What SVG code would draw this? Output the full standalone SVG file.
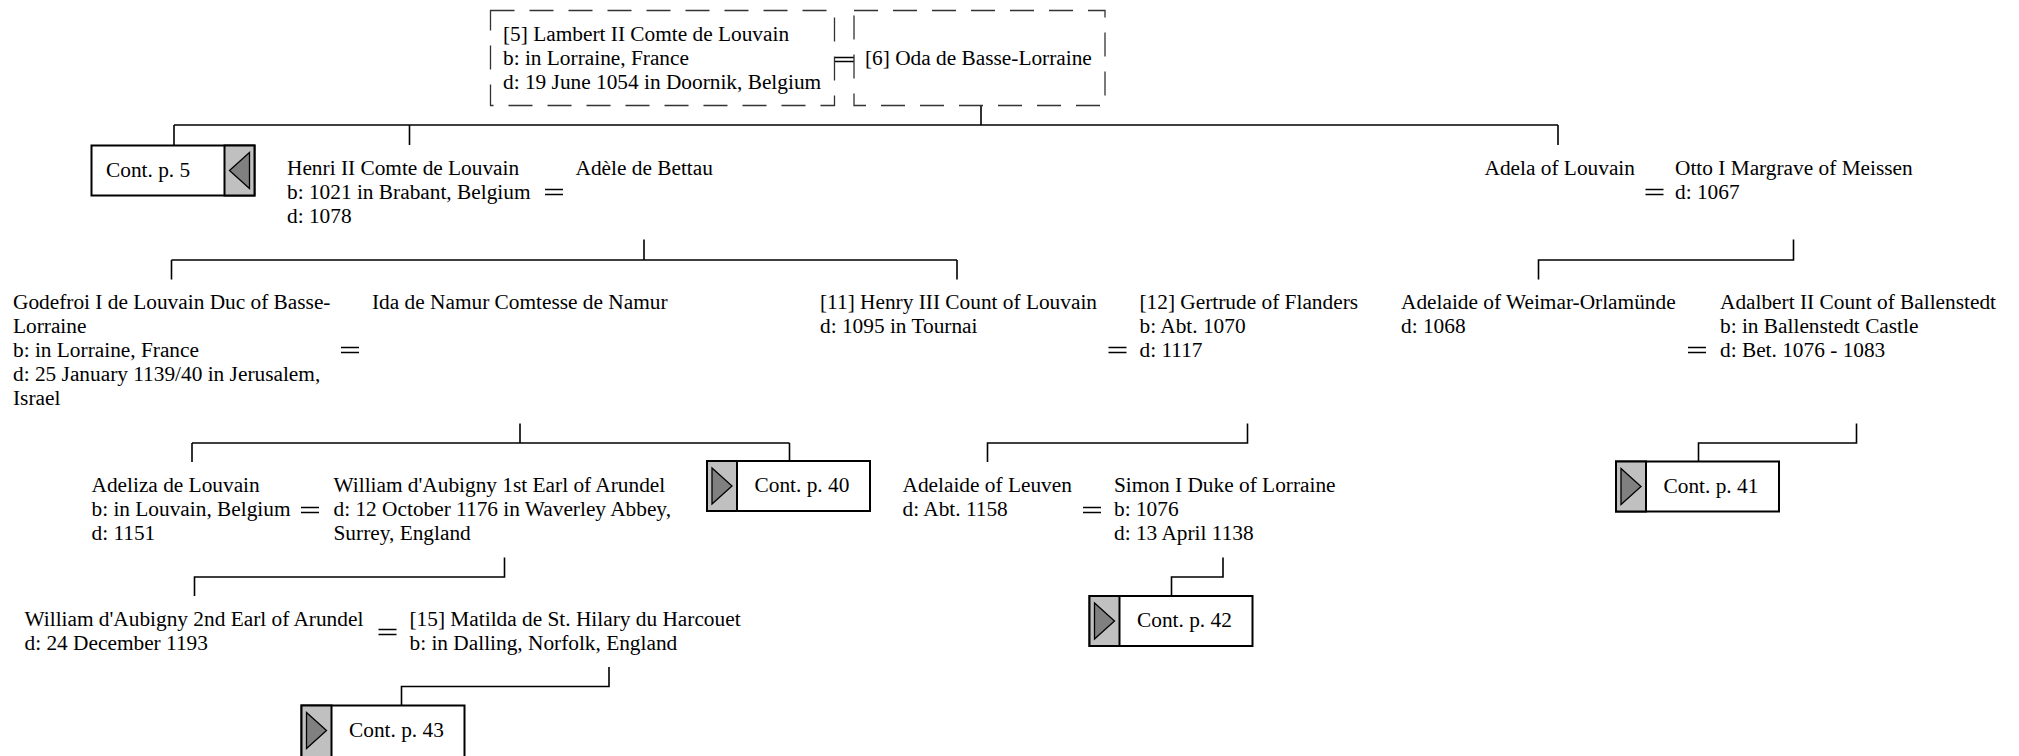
<svg xmlns="http://www.w3.org/2000/svg" width="2019" height="756" viewBox="0 0 2019 756">
<style>
text{font-family:"Liberation Serif","Times New Roman",serif;font-size:21.33px;fill:#000}
.dash{fill:#fff;stroke:#333;stroke-width:1.3;stroke-dasharray:24 15}
.ln{fill:none;stroke:#000;stroke-width:1.6}
.eq{fill:none;stroke:#000;stroke-width:1.4}
.box{fill:#fff;stroke:#000;stroke-width:2}
.gray{fill:#c0c0c0;stroke:#000;stroke-width:2}
.tri{fill:#808080;stroke:#000;stroke-width:1.3}
</style>
<rect width="2019" height="756" fill="#fff"/>
<g id="connectors">
<path class="eq" d="M835,57.5H854M835,61.5H854"/>
<path class="ln" d="M981,105.5V125M174,125H1558M174,125V145.5M409.5,125V145M1558,125V145"/>
<path class="eq" d="M545,189.5H563M545,194.5H563"/>
<path class="ln" d="M644,239.5V260M171.5,260H957M171.5,260V279.5M957,260V279.5"/>
<path class="eq" d="M1645.5,189.5H1663.5M1645.5,194.5H1663.5"/>
<path class="ln" d="M1793.5,239.5V260H1538.5V279.5"/>
<path class="eq" d="M341,347.5H359M341,352.5H359"/>
<path class="eq" d="M1108.5,347.5H1126.5M1108.5,352.5H1126.5"/>
<path class="eq" d="M1688,347.5H1706M1688,352.5H1706"/>
<path class="ln" d="M520,423.5V443M192,443H789.5M192,443V462M789.5,443V461"/>
<path class="ln" d="M1247.5,423.5V443H987.5V462"/>
<path class="ln" d="M1856.5,423.5V443H1698.5V461.5"/>
<path class="eq" d="M301,507.5H319M301,512.5H319"/>
<path class="eq" d="M1083,507.5H1101M1083,512.5H1101"/>
<path class="ln" d="M504.5,557.5V577H194.5V596"/>
<path class="ln" d="M1223,557.5V577H1171.5V596"/>
<path class="eq" d="M378.5,629.5H396.5M378.5,634.5H396.5"/>
<path class="ln" d="M609,667V686.5H401.5V705.5"/>
</g>
<g id="n5">
<rect class="dash" x="490.5" y="10.5" width="344" height="95"/>
<text x="503" y="41">[5] Lambert II Comte de Louvain</text>
<text x="503" y="65">b: in Lorraine, France</text>
<text x="503" y="89">d: 19 June 1054 in Doornik, Belgium</text>
</g>
<g id="n6">
<rect class="dash" x="854" y="10.5" width="251" height="95"/>
<text x="865" y="65">[6] Oda de Basse-Lorraine</text>
</g>
<g id="cont5">
<rect class="box" x="91.5" y="145.5" width="163" height="50"/>
<rect class="gray" x="224.5" y="145.5" width="30" height="50"/>
<polygon class="tri" points="229.5,170.5 249.5,152.5 249.5,188.5"/>
<text x="106" y="177">Cont. p. 5</text>
</g>
<g id="henri2">
<text x="287" y="175">Henri II Comte de Louvain</text>
<text x="287" y="199">b: 1021 in Brabant, Belgium</text>
<text x="287" y="223">d: 1078</text>
</g>
<g id="adele">
<text x="575.5" y="175">Adèle de Bettau</text>
</g>
<g id="adela">
<text x="1484.5" y="175">Adela of Louvain</text>
</g>
<g id="otto">
<text x="1675" y="175">Otto I Margrave of Meissen</text>
<text x="1675" y="199">d: 1067</text>
</g>
<g id="godefroi">
<text x="13" y="308.5">Godefroi I de Louvain Duc of Basse-</text>
<text x="13" y="332.7">Lorraine</text>
<text x="13" y="356.9">b: in Lorraine, France</text>
<text x="13" y="381.1">d: 25 January 1139/40 in Jerusalem,</text>
<text x="13" y="405.3">Israel</text>
</g>
<g id="ida">
<text x="372" y="308.5">Ida de Namur Comtesse de Namur</text>
</g>
<g id="n11">
<text x="820" y="308.5">[11] Henry III Count of Louvain</text>
<text x="820" y="332.7">d: 1095 in Tournai</text>
</g>
<g id="n12">
<text x="1139.5" y="308.5">[12] Gertrude of Flanders</text>
<text x="1139.5" y="332.7">b: Abt. 1070</text>
<text x="1139.5" y="356.9">d: 1117</text>
</g>
<g id="adelaideW">
<text x="1401" y="308.5">Adelaide of Weimar-Orlamünde</text>
<text x="1401" y="332.7">d: 1068</text>
</g>
<g id="adalbert">
<text x="1720" y="308.5">Adalbert II Count of Ballenstedt</text>
<text x="1720" y="332.7">b: in Ballenstedt Castle</text>
<text x="1720" y="356.9">d: Bet. 1076 - 1083</text>
</g>
<g id="cont40">
<rect class="box" x="707" y="461" width="163" height="50"/>
<rect class="gray" x="707" y="461" width="30" height="50"/>
<polygon class="tri" points="712,468 712,504 732,486"/>
<text x="754.5" y="492">Cont. p. 40</text>
</g>
<g id="cont41">
<rect class="box" x="1616" y="461.5" width="163" height="50"/>
<rect class="gray" x="1616" y="461.5" width="30" height="50"/>
<polygon class="tri" points="1621,468.5 1621,504.5 1641,486.5"/>
<text x="1663.5" y="492.5">Cont. p. 41</text>
</g>
<g id="adeliza">
<text x="91.5" y="491.5">Adeliza de Louvain</text>
<text x="91.5" y="515.7">b: in Louvain, Belgium</text>
<text x="91.5" y="539.9">d: 1151</text>
</g>
<g id="william1">
<text x="333.5" y="491.5">William d'Aubigny 1st Earl of Arundel</text>
<text x="333.5" y="515.7">d: 12 October 1176 in Waverley Abbey,</text>
<text x="333.5" y="539.9">Surrey, England</text>
</g>
<g id="adelaideL">
<text x="902.5" y="491.5">Adelaide of Leuven</text>
<text x="902.5" y="515.7">d: Abt. 1158</text>
</g>
<g id="simon">
<text x="1114" y="491.5">Simon I Duke of Lorraine</text>
<text x="1114" y="515.7">b: 1076</text>
<text x="1114" y="539.9">d: 13 April 1138</text>
</g>
<g id="cont42">
<rect class="box" x="1089.5" y="596" width="163" height="50"/>
<rect class="gray" x="1089.5" y="596" width="30" height="50"/>
<polygon class="tri" points="1094.5,603 1094.5,639 1114.5,621"/>
<text x="1137" y="627">Cont. p. 42</text>
</g>
<g id="william2">
<text x="24.5" y="625.5">William d'Aubigny 2nd Earl of Arundel</text>
<text x="24.5" y="649.7">d: 24 December 1193</text>
</g>
<g id="n15">
<text x="409.5" y="625.5">[15] Matilda de St. Hilary du Harcouet</text>
<text x="409.5" y="649.7">b: in Dalling, Norfolk, England</text>
</g>
<g id="cont43">
<rect class="box" x="301.5" y="705.5" width="163" height="53"/>
<rect class="gray" x="301.5" y="705.5" width="30" height="53"/>
<polygon class="tri" points="306.5,712.5 306.5,748.5 326.5,730.5"/>
<text x="349" y="736.5">Cont. p. 43</text>
</g>
</svg>
